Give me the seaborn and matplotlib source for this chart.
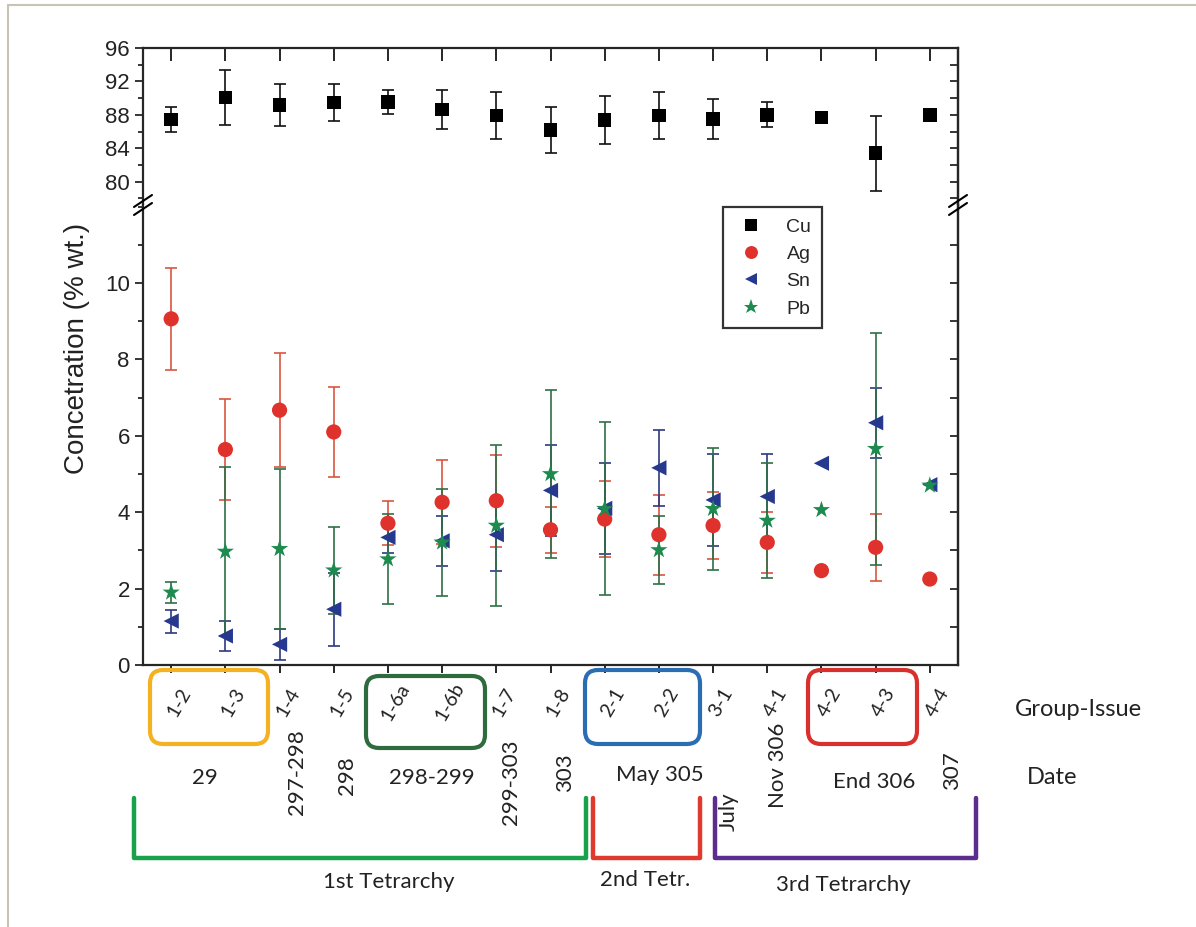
import numpy as np
import pandas as pd
import matplotlib
matplotlib.use('Agg')
import matplotlib.pyplot as plt
import matplotlib.transforms as mtransforms
from matplotlib.patches import FancyBboxPatch
from matplotlib.lines import Line2D
from matplotlib.ticker import MultipleLocator
import seaborn as sns

# group-issue categories
issues = ['1-2', '1-3', '1-4', '1-5', '1-6a', '1-6b', '1-7', '1-8',
          '2-1', '2-2', '3-1', '4-1', '4-2', '4-3', '4-4']

# concentrations (% wt.) and their errors
cu = [87.45, 90.06, 89.17, 89.45, 89.53, 88.65, 87.93, 86.16, 87.4, 87.9, 87.5, 88.0, 87.7, 83.4, 88.0]
cu_err = [1.5, 3.3, 2.55, 2.2, 1.45, 2.35, 2.85, 2.75, 2.85, 2.8, 2.35, 1.5, np.nan, 4.5, np.nan]
ag = [9.06, 5.64, 6.67, 6.10, 3.71, 4.26, 4.30, 3.54, 3.82, 3.41, 3.65, 3.21, 2.47, 3.08, 2.25]
ag_err = [1.34, 1.31, 1.5, 1.17, 0.57, 1.1, 1.2, 0.6, 1.0, 1.05, 0.87, 0.8, np.nan, 0.87, np.nan]
sn = [1.15, 0.76, 0.54, 1.46, 3.34, 3.25, 3.41, 4.57, 4.10, 5.16, 4.32, 4.41, 5.28, 6.34, 4.72]
sn_err = [0.3, 0.4, 0.4, 0.96, 0.4, 0.65, 0.96, 1.2, 1.2, 1.0, 1.2, 1.12, np.nan, 0.92, np.nan]
pb = [1.90, 2.97, 3.04, 2.48, 2.77, 3.21, 3.65, 5.00, 4.09, 3.01, 4.09, 3.78, 4.06, 5.66, 4.70]
pb_err = [0.28, 2.2, 2.1, 1.14, 1.18, 1.4, 2.1, 2.2, 2.27, 0.88, 1.6, 1.5, np.nan, 3.04, np.nan]

# date row under the issues
dates_flat = ['29', '298-299', 'May 305', 'End 306']
dates_rot = ['297-298', '298', '299-303', '303', 'July', 'Nov 306', '307']
periods = ['1st Tetrarchy', '2nd Tetr.', '3rd Tetrarchy']

elements = ['Cu', 'Ag', 'Sn', 'Pb']
values = {'Cu': cu, 'Ag': ag, 'Sn': sn, 'Pb': pb}
errors = {'Cu': cu_err, 'Ag': ag_err, 'Sn': sn_err, 'Pb': pb_err}
colores = {'Cu': '#000000', 'Ag': '#e0322c', 'Sn': '#27388f', 'Pb': '#1d8a4e'}
err_col = {'Cu': '#111111', 'Ag': '#d9553f', 'Sn': '#2c3a80', 'Pb': '#2f6f45'}
markers = {'Cu': 's', 'Ag': 'o', 'Sn': '<', 'Pb': '*'}
sizes = {'Cu': 95, 'Ag': 120, 'Sn': 120, 'Pb': 170}

rows = []
for el in elements:
    for i, (v, e) in enumerate(zip(values[el], errors[el])):
        rows.append({'pos': i, 'issue': issues[i], 'element': el, 'value': v, 'err': e})
df = pd.DataFrame(rows)

sns.set_style('ticks')
plt.rcParams['font.family'] = ['Liberation Sans', 'DejaVu Sans']

W, H = 1196, 927
fig = plt.figure(figsize=(W / 100, H / 100), dpi=100)


def fx(px):
    return px / W


def fy(py):
    return 1 - py / H


x0, x1 = 143, 958
y_top, y_break, y_bot = 48, 205, 665
ax_top = fig.add_axes([fx(x0), fy(y_break), fx(x1) - fx(x0), fy(y_top) - fy(y_break)])
ax_bot = fig.add_axes([fx(x0), fy(y_bot), fx(x1) - fx(x0), fy(y_break) - fy(y_bot)])

for ax in (ax_top, ax_bot):
    for el in elements:
        sub = df[df.element == el]
        ax.errorbar(sub.pos, sub.value, yerr=sub.err, fmt='none', ecolor=err_col[el],
                    elinewidth=1.2, capsize=4, capthick=1.2, zorder=2)
    sns.scatterplot(data=df, x='pos', y='value', hue='element', style='element', size='element',
                    hue_order=elements, style_order=elements, size_order=elements,
                    palette=colores, markers=markers, sizes=sizes, linewidth=0,
                    ax=ax, legend=(ax is ax_bot), zorder=3)
    ax.set_xlim(-0.52, 14.52)
    ax.set_xlabel('')
    ax.set_ylabel('')
    ax.set_xticks(range(len(issues)))
    for s in ax.spines.values():
        s.set_linewidth(1.6)
        s.set_visible(True)

# upper panel (Cu)
ax_top.set_ylim(77.2, 96)
ax_top.set_yticks([80, 84, 88, 92, 96])
ax_top.yaxis.set_minor_locator(MultipleLocator(2))
ax_top.spines['bottom'].set_visible(False)
ax_top.tick_params(axis='x', bottom=False, top=True, direction='in', length=9, width=1.4,
                   labelbottom=False)
ax_top.tick_params(axis='y', which='both', left=True, right=False, direction='out', width=1.3,
                   labelsize=16, labelcolor='#222222')
ax_top.tick_params(axis='y', which='major', length=6)
ax_top.tick_params(axis='y', which='minor', length=3.5)
ax_r = ax_top.secondary_yaxis('right')
ax_r.set_yticks(np.arange(78, 97, 2))
ax_r.tick_params(direction='in', length=6, width=1.3, labelright=False)
ax_r.spines['right'].set_linewidth(1.6)

# lower panel (Ag, Sn, Pb)
ax_bot.set_ylim(0, 12.04)
ax_bot.set_yticks([0, 2, 4, 6, 8, 10])
ax_bot.yaxis.set_minor_locator(MultipleLocator(1))
ax_bot.spines['top'].set_visible(False)
ax_bot.tick_params(axis='x', bottom=True, top=False, direction='out', length=6, width=1.4,
                   labelbottom=False)
ax_bot.tick_params(axis='y', which='both', left=True, right=False, direction='out', width=1.3,
                   labelsize=16, labelcolor='#222222')
ax_bot.tick_params(axis='y', which='major', length=6)
ax_bot.tick_params(axis='y', which='minor', length=3.5)
ax_rb = ax_bot.secondary_yaxis('right')
ax_rb.set_yticks(np.arange(0, 12, 1))
ax_rb.tick_params(direction='in', length=6, width=1.3, labelright=False)
ax_rb.spines['right'].set_linewidth(1.6)

handles, labels = ax_bot.get_legend_handles_labels()
leg = ax_bot.legend(handles, labels, loc='upper left', bbox_to_anchor=(0.712, 0.995),
                    frameon=True, fancybox=False, edgecolor='black', fontsize=14,
                    handletextpad=0.9, borderpad=0.55, labelspacing=0.5, borderaxespad=0,
                    handlelength=1.8, markerscale=0.85)
leg.get_frame().set_linewidth(1.6)

# axis break marks
for bx in (x0, x1):
    for dy in (-4, 4):
        fig.add_artist(Line2D([fx(bx - 9), fx(bx + 9)], [fy(y_break + dy + 6), fy(y_break + dy - 6)],
                              color='black', lw=1.5))

fig.text(fx(77), fy(348), 'Concetration (% wt.)', rotation=90, ha='center', va='center',
         fontsize=20, color='#222222')

# group-issue labels under the ticks
lab_font = ['Lato', 'DejaVu Sans']
trans = mtransforms.blended_transform_factory(ax_bot.transData, fig.transFigure)
for i, name in enumerate(issues):
    ax_bot.text(i + 0.15, fy(702), name, transform=trans, rotation=60, ha='center', va='center',
                fontsize=14, family=lab_font, color='#222222', clip_on=False)

# coloured boxes around issue pairs
boxes = [((150, 670, 268, 744), '#f4b223'), ((366, 676, 485, 748), '#2e6b3d'),
         ((585, 670, 700, 744), '#2b6db3'), ((808, 670, 917, 744), '#d8302c')]
for (bx0, by0, bx1, by1), c in boxes:
    fig.add_artist(FancyBboxPatch((fx(bx0), fy(by1)), fx(bx1) - fx(bx0), fy(by0) - fy(by1),
                                  boxstyle='round,pad=0,rounding_size=0.011',
                                  mutation_aspect=W / H, fill=False, ec=c, lw=3))

# date row
flat_pos = [(205, 778), (432, 778), (660, 775), (874, 782)]
for t, (px, py) in zip(dates_flat, flat_pos):
    fig.text(fx(px), fy(py), t, ha='center', va='center', fontsize=16, family=lab_font, color='#222222')
rot_pos = [(297, 772), (347, 776), (511, 782), (565, 773), (729, 812), (778, 765), (952, 771)]
for t, (px, py) in zip(dates_rot, rot_pos):
    fig.text(fx(px), fy(py), t, ha='center', va='center', rotation=90, fontsize=16,
             family=lab_font, color='#222222')

fig.text(fx(1078), fy(710), 'Group-Issue', ha='center', va='center', fontsize=17, family=lab_font,
         color='#222222')
fig.text(fx(1052), fy(778), 'Date', ha='center', va='center', fontsize=17, family=lab_font,
         color='#222222')

# tetrarchy brackets
brackets = [(134, 586, '#1aa14b'), (593, 700, '#e03a2e'), (715, 976, '#5b2d8e')]
for bx0, bx1, c in brackets:
    fig.add_artist(Line2D([fx(bx0), fx(bx0), fx(bx1), fx(bx1)], [fy(798), fy(858), fy(858), fy(798)],
                          color=c, lw=3.2, solid_joinstyle='round', solid_capstyle='round'))
period_pos = [(389, 882), (645, 880), (843, 885)]
for t, (px, py) in zip(periods, period_pos):
    fig.text(fx(px), fy(py), t, ha='center', va='center', fontsize=16, family=lab_font, color='#222222')

# thin frame at top and left of the picture
fig.add_artist(Line2D([fx(8), 1], [fy(5), fy(5)], color='#c9c3b6', lw=1.5))
fig.add_artist(Line2D([fx(8), fx(8)], [fy(5), 0], color='#c9c3b6', lw=1.5))

fig.savefig('out.png', dpi=100)
